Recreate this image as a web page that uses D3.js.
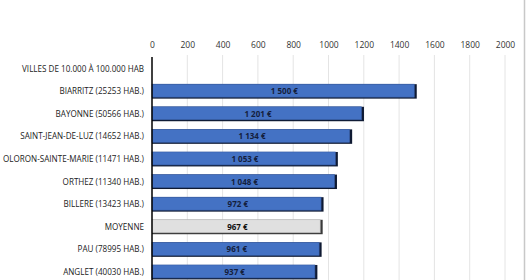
<!DOCTYPE html>
<html>
<head>
<meta charset="utf-8">
<script src="https://cdn.jsdelivr.net/npm/d3@7"></script>
<style>
  body { margin: 0; background: #fff; }
  text { font-family: "Open Sans", "Liberation Sans", sans-serif; }
</style>
</head>
<body>
<script>
var width = 529, height = 280;

var categories = ["VILLES DE 10.000 À 100.000 HAB", "BIARRITZ (25253 HAB.)", "BAYONNE (50566 HAB.)",
  "SAINT-JEAN-DE-LUZ (14652 HAB.)", "OLORON-SAINTE-MARIE (11471 HAB.)", "ORTHEZ (11340 HAB.)",
  "BILLERE (13423 HAB.)", "MOYENNE", "PAU (78995 HAB.)", "ANGLET (40030 HAB.)"];
var values = [null, 1500, 1201, 1134, 1053, 1048, 972, 967, 961, 937];
var valueLabels = ["", "1 500 €", "1 201 €", "1 134 €", "1 053 €", "1 048 €", "972 €", "967 €", "961 €", "937 €"];
var ticks = [0, 200, 400, 600, 800, 1000, 1200, 1400, 1600, 1800, 2000];

var svg = d3.select("body").append("svg").attr("width", width).attr("height", height);

var x = d3.scaleLinear().domain([0, 2000]).range([152, 505]);
var y = d3.scaleBand().domain(categories).range([57.5, 57.5 + 22.6 * categories.length]).paddingInner(0.36).paddingOuter(0.18);

// gridlines
svg.append("g").selectAll("line")
  .data(ticks.slice(1))
  .enter().append("line")
  .attr("x1", d => x(d)).attr("x2", d => x(d))
  .attr("y1", 55).attr("y2", height)
  .attr("stroke", "#e4e4e4").attr("stroke-width", 1);

// top axis
var axis = svg.append("g").attr("transform", "translate(0,45)")
  .call(d3.axisTop(x).tickValues(ticks).tickFormat(d3.format("d")).tickSize(0).tickPadding(0));
axis.select(".domain").remove();
axis.selectAll("text").attr("font-size", 8.5).attr("fill", "#333").attr("dy", "0.35em")
  .style("font-family", "'Open Sans', sans-serif");

// category labels
svg.append("g").selectAll("text")
  .data(categories)
  .enter().append("text")
  .attr("x", 144)
  .attr("y", d => y(d) + y.bandwidth() / 2)
  .attr("dy", "0.35em")
  .attr("text-anchor", "end")
  .attr("font-size", 8.1)
  .attr("fill", "#222")
  .text(d => d);

var rows = categories.map((c, i) => ({ cat: c, v: values[i], label: valueLabels[i] })).filter(d => d.v != null);

// bar shadow edge
svg.append("g").selectAll("rect")
  .data(rows)
  .enter().append("rect")
  .attr("x", x(0))
  .attr("y", d => y(d.cat))
  .attr("width", d => x(d.v) - x(0))
  .attr("height", y.bandwidth())
  .attr("fill", d => d.cat == "MOYENNE" ? "#3a3a3a" : "#0f1a33");

svg.append("g").selectAll("rect")
  .data(rows)
  .enter().append("rect")
  .attr("x", x(0))
  .attr("y", d => y(d.cat))
  .attr("width", d => x(d.v) - x(0) - 2.5)
  .attr("height", y.bandwidth() - 1.5)
  .attr("fill", d => d.cat == "MOYENNE" ? "#e0e0e0" : "#4472c4")
  .attr("stroke", d => d.cat == "MOYENNE" ? "#bdbdbd" : "#3a5fa8")
  .attr("stroke-width", 0.6);

// value labels
svg.append("g").selectAll("text")
  .data(rows)
  .enter().append("text")
  .attr("x", d => (x(0) + x(d.v)) / 2)
  .attr("y", d => y(d.cat) + y.bandwidth() / 2)
  .attr("dy", "0.35em")
  .attr("text-anchor", "middle")
  .attr("font-size", 8)
  .attr("font-weight", "bold")
  .attr("fill", d => d.cat == "MOYENNE" ? "#111" : "#14203d")
  .text(d => d.label);

// left axis line
svg.append("line")
  .attr("x1", x(0)).attr("x2", x(0))
  .attr("y1", 57).attr("y2", height)
  .attr("stroke", "#000").attr("stroke-width", 1.5);

// right frame edge
svg.append("line")
  .attr("x1", 524.5).attr("x2", 524.5)
  .attr("y1", 0).attr("y2", height)
  .attr("stroke", "#c8c8c8").attr("stroke-width", 1.5);
</script>
</body>
</html>
